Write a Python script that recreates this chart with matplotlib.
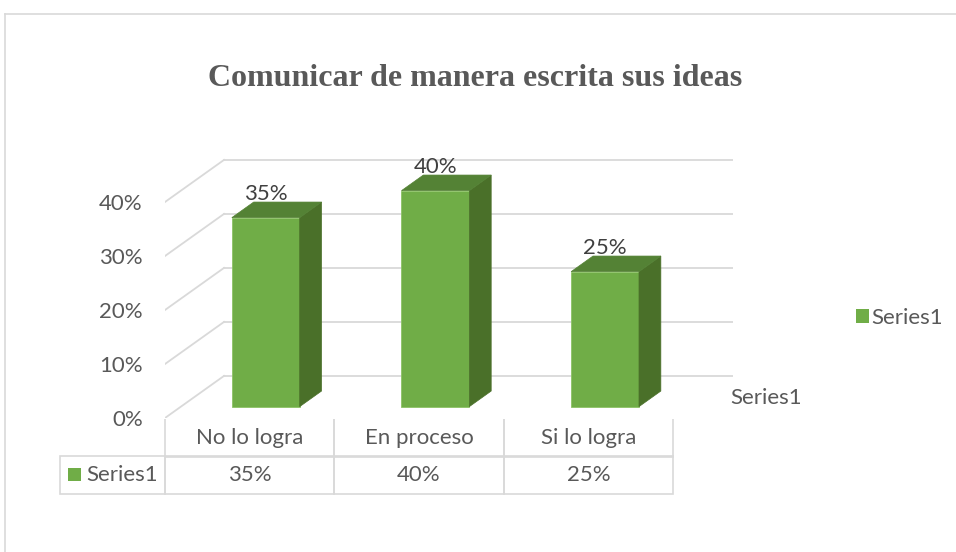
import matplotlib.pyplot as plt
from matplotlib.patches import Polygon, Rectangle, Patch
from matplotlib.lines import Line2D
import numpy as np

# data
categories = ['No lo logra', 'En proceso', 'Si lo logra']
values = np.array([35, 40, 25])
series_name = 'Series1'
yticks = [0, 10, 20, 30, 40]

FONT = 'Lato'
FS = 16
TXT = '#595959'
GRID = '#D9D9D9'
FRONT = '#70AD47'
TOP = '#548235'
SIDE = '#4A7029'

W, H = 956, 552
fx = lambda px: px / W
fy = lambda py: 1 - py / H

fig = plt.figure(figsize=(W / 100, H / 100), dpi=100)

# chart border
fig.add_artist(Line2D([fx(5), fx(5)], [fy(14), fy(552)], color=GRID, lw=1.2))
fig.add_artist(Line2D([fx(5), fx(956)], [fy(14), fy(14)], color=GRID, lw=1.2))

fig.text(fx(475), fy(79), 'Comunicar de manera escrita sus ideas', ha='center', va='center',
         fontfamily='Liberation Serif', fontweight='bold', fontsize=23, color=TXT)

# oblique projection: depth offset in x (category units) and y (percent units)
D = 0.348
DY = 7.8
f0, f1 = 0.27, 0.64
bw = 0.40

ax = fig.add_axes([fx(165), fy(418), (733 - 165) / W, (418 - 150) / H])
ax.set_xlim(-0.5, 2.5 + D)
ax.set_ylim(0, 268 / 5.4)
for s in ax.spines.values():
    s.set_visible(False)
ax.set_xticks([])
ax.set_yticks(yticks)
ax.set_yticklabels([f'{t}%' for t in yticks], fontfamily=FONT, fontsize=FS, color=TXT)
ax.tick_params(axis='y', length=0, pad=16)

# walls gridlines
for t in yticks:
    ax.plot([-0.5 + D, 2.5 + D], [t + DY, t + DY], color=GRID, lw=1.3, zorder=1)
    ax.plot([-0.5, -0.5 + D], [t, t + DY], color=GRID, lw=1.3, zorder=1)

x = np.arange(len(categories))
ax.bar(x + f0 * D, values, width=bw, bottom=f0 * DY, color=FRONT, edgecolor='#8CC266',
       linewidth=0.6, zorder=3)
for xi, v in zip(x, values):
    xl, xr = xi - bw / 2 + f0 * D, xi + bw / 2 + f0 * D
    y0, y1 = f0 * DY, v + f0 * DY
    ddx, ddy = (f1 - f0) * D, (f1 - f0) * DY
    side = [(xr, y0), (xr + ddx, y0 + ddy), (xr + ddx, y1 + ddy), (xr, y1)]
    top = [(xl, y1), (xr, y1), (xr + ddx, y1 + ddy), (xl + ddx, y1 + ddy)]
    ax.add_patch(Polygon(side, closed=True, facecolor=SIDE, edgecolor=SIDE, lw=0.5, zorder=3))
    ax.add_patch(Polygon(top, closed=True, facecolor=TOP, edgecolor=TOP, lw=0.5, zorder=3))
    ax.text(xi + f0 * D, v + f1 * DY + 0.3, f'{v}%', ha='center', va='baseline',
            fontfamily=FONT, fontsize=FS, color='#404040', zorder=4)

# data table (first column holds the row label)
cells = [[''] + categories, [series_name] + [f'{v}%' for v in values]]
tbl = ax.table(cellText=cells, colWidths=[105, 169.3, 169.3, 169.3], cellLoc='center',
               bbox=[(60 - 165) / 568, (418 - 494) / 268, (673 - 60) / 568, 75 / 268])
tbl.auto_set_font_size(False)
for (r, c), cell in tbl.get_celld().items():
    cell.set_edgecolor(GRID)
    cell.set_linewidth(1.2)
    cell.set_facecolor('none')
    cell.get_text().set_fontfamily(FONT)
    cell.get_text().set_fontsize(FS)
    cell.get_text().set_color(TXT)
    if r == 0:
        cell.visible_edges = '' if c == 0 else 'BLR'
tbl[1, 0].get_text().set_horizontalalignment('right')
tbl[1, 0].PAD = 0.07
fig.add_artist(Rectangle((fx(68), fy(481)), 13 / W, 13 / H, facecolor=FRONT,
                         edgecolor='none', transform=fig.transFigure))

# legend and depth axis label
ax.legend(handles=[Patch(facecolor=FRONT)], labels=[series_name], loc='center left',
          bbox_to_anchor=(fx(836), fy(318)), bbox_transform=fig.transFigure, frameon=False,
          handlelength=0.6, handleheight=0.6, handletextpad=0.08,
          prop={'family': FONT, 'size': FS}, labelcolor=TXT)
fig.text(fx(730), fy(398), series_name, ha='left', va='center', fontfamily=FONT,
         fontsize=FS, color=TXT)

fig.savefig('out.png', dpi=100)
